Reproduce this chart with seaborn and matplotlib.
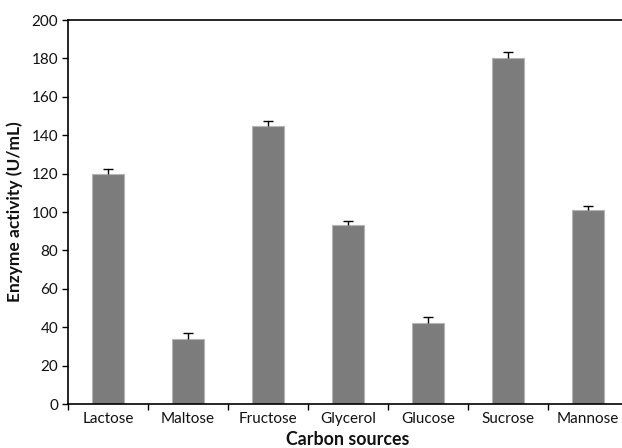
import numpy as np
import pandas as pd
import matplotlib
matplotlib.use("Agg")
import matplotlib.pyplot as plt
import seaborn as sns

categories = ["Lactose", "Maltose", "Fructose", "Glycerol", "Glucose", "Sucrose", "Mannose"]
activity = [120, 34, 145, 93, 42, 180, 101]
errors = [2.3, 3.0, 2.4, 2.4, 3.2, 3.5, 2.0]
y_ticks = [0, 20, 40, 60, 80, 100, 120, 140, 160, 180, 200]

sns.set_style("white")
plt.rcParams['font.family'] = ['Lato', 'DejaVu Sans']

df = pd.DataFrame({"Carbon sources": categories, "Enzyme activity": activity})

fig = plt.figure(figsize=(6.22, 4.48), dpi=100)
ax = fig.add_axes([68/622, 44/448, 560/622, 384/448])

sns.barplot(data=df, x="Carbon sources", y="Enzyme activity", color="#7c7c7c",
            saturation=1, width=0.4, edgecolor="#b4b4b4", linewidth=0.8, ax=ax)
for p in ax.patches:
    p.set_facecolor("#7c7c7c")

x = np.arange(len(categories))
eb = ax.errorbar(x, activity, yerr=[np.zeros(len(errors)), errors], fmt="none",
                 ecolor="black", elinewidth=1.0, capsize=3.5, capthick=1.0, zorder=3)
# hide lower caps (one-sided error bars)
eb[1][0].set_visible(False)

ax.set_xlim(-0.5, len(categories) - 0.5)
ax.set_ylim(0, 200)
ax.set_yticks(y_ticks)
ax.set_xticks(x)
ax.set_xticklabels(categories)
ax.set_xticks(np.arange(-0.5, len(categories), 1.0), minor=True)

ax.tick_params(axis="x", which="major", length=0, pad=6, labelsize=11, labelcolor="#111111")
ax.tick_params(axis="x", which="minor", length=4, width=1, direction="out", bottom=True, color="black")
ax.tick_params(axis="y", which="major", length=4, width=1, direction="out", left=True, pad=3,
               labelsize=11, color="black", labelcolor="#111111")

for s in ["left", "bottom", "top"]:
    ax.spines[s].set_visible(True)
    ax.spines[s].set_color("black")
    ax.spines[s].set_linewidth(1.2)
ax.spines["right"].set_visible(False)

ax.set_xlabel("Carbon sources", fontsize=12.8, fontweight="bold", labelpad=3, color="#111111")
ax.set_ylabel("Enzyme activity (U/mL)", fontsize=12.5, fontweight="bold", labelpad=6, color="#111111")

fig.savefig("out.png", dpi=100)
